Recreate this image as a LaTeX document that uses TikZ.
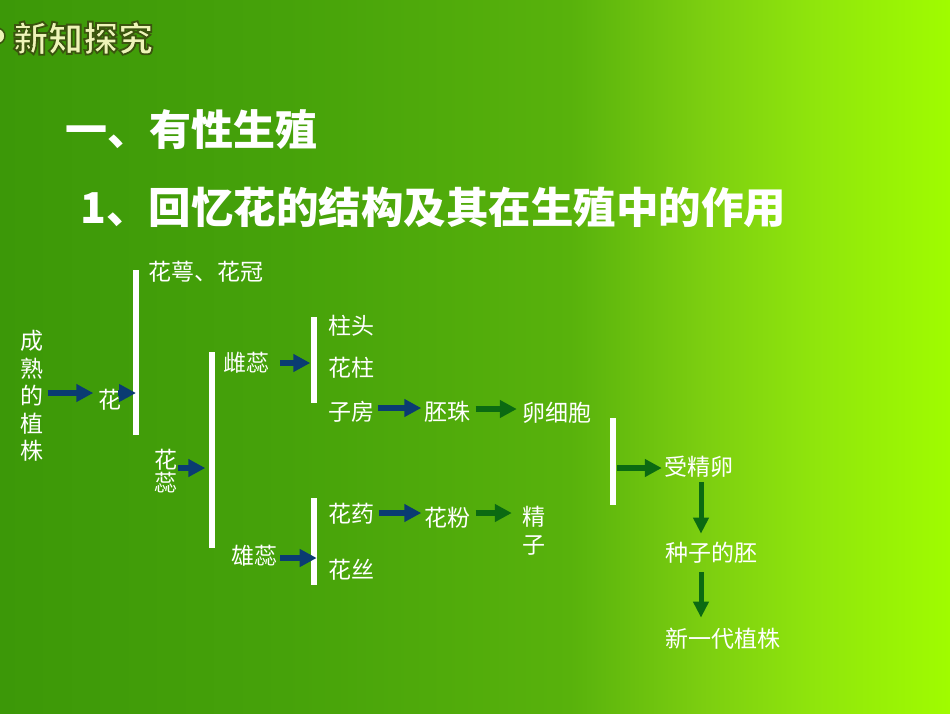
\documentclass[tikz,border=0pt]{standalone}
\usepackage{fontspec}
\newfontfamily\cjk{Noto Sans CJK SC}
\usetikzlibrary{arrows.meta}
\definecolor{navy}{HTML}{0A3C72}
\definecolor{dgreen}{HTML}{0B6A12}
\definecolor{pale}{HTML}{EEF4B8}
\definecolor{olive}{HTML}{3A5410}
\definecolor{ga}{HTML}{3C9808}
\definecolor{gb}{HTML}{46A20A}
\definecolor{gc}{HTML}{58B20C}
\definecolor{gd}{HTML}{7CCE10}
\definecolor{ge}{HTML}{90E60C}
\definecolor{gf}{HTML}{A0FC00}
\pgfdeclarehorizontalshading{bgshade}{100bp}{color(0bp)=(ga); color(25bp)=(ga); color(40bp)=(gb); color(55bp)=(gc); color(62bp)=(gd); color(68bp)=(ge); color(75bp)=(gf); color(100bp)=(gf)}
\tikzset{
  lbl/.style={text=white, font=\cjk\fontsize{23}{28}\selectfont, inner sep=0pt},
  barnode/.style={draw=none, fill=white, minimum width=6pt, inner sep=0pt},
  barrow/.style={navy, line width=6.5pt, -{Triangle[length=17pt,width=17pt]}},
  garrow/.style={dgreen, line width=6.5pt, -{Triangle[length=17pt,width=17pt]}},
  gdown/.style={dgreen, line width=5pt, -{Triangle[length=16pt,width=15pt]}},
  ttl/.style={text=white, inner sep=0pt, anchor=west}
}
\begin{document}
\begin{tikzpicture}[x=1pt,y=-1pt]
\useasboundingbox (0,0) rectangle (950,713);
\shade[shading=bgshade] (0,0) rectangle (950,713);
% header badge
\draw[olive, fill=pale, line width=1.5pt] (-3,36) circle (8);
\node[inner sep=0pt, anchor=west, text=pale, font=\cjk\bfseries\fontsize{35}{35}\selectfont] (badge) at (13,38) {\special{pdf:literal direct 2 Tr 1.8 w 0.23 0.33 0.06 RG}新知探究\special{pdf:literal direct 0 Tr 1 w}};
% titles
\node[ttl, font=\cjk\bfseries\fontsize{42}{42}\selectfont] (t1) at (65,130) {一、有性生殖};
\node[ttl, font=\cjk\bfseries\fontsize{42.5}{42.5}\selectfont] (t2) at (80,207) {1、回忆花的结构及其在生殖中的作用};
% text nodes
\node[lbl, align=center, font=\cjk\fontsize{23}{27.5}\selectfont] (cs) at (32,396) {成\\熟\\的\\植\\株};
\node[lbl] (hua) at (110,400) {花};
\node[lbl, anchor=west] (hge) at (148,272) {花萼、花冠};
\node[lbl, align=center, font=\cjk\fontsize{23}{23}\selectfont] (hr) at (166,471.5) {花\\蕊};
\node[lbl] (cr) at (246,363) {雌蕊};
\node[lbl] (xr) at (254,556) {雄蕊};
\node[lbl, anchor=west] (zt) at (328,326) {柱头};
\node[lbl, anchor=west] (hz) at (328,368) {花柱};
\node[lbl, anchor=west] (zf) at (328,412) {子房};
\node[lbl] (pz) at (447,412) {胚珠};
\node[lbl] (lxb) at (557,413) {卵细胞};
\node[lbl, anchor=west] (hy) at (328,514) {花药};
\node[lbl, anchor=west] (hs) at (328,570) {花丝};
\node[lbl] (hf) at (447,518) {花粉};
\node[lbl, align=center, font=\cjk\fontsize{23}{28}\selectfont] (jz) at (534,531) {精\\子};
\node[lbl] (sjl) at (699,467) {受精卵};
\node[lbl] (zzdp) at (711,553) {种子的胚};
\node[lbl] (xyd) at (723,639) {新一代植株};
% bars
\node[barnode, minimum height=165pt] (b1) at (136,352.5) {};
\node[barnode, minimum height=196pt] (b2) at (211.5,450) {};
\node[barnode, minimum height=86pt] (b3) at (313.5,360) {};
\node[barnode, minimum height=87pt] (b5) at (313.5,541.5) {};
\node[barnode, minimum height=87pt] (b4) at (613,461.5) {};
% arrows
\draw[barrow, shorten <=4pt, shorten >=5pt] ([yshift=3pt]cs.east) -- ([yshift=3pt]cs.east -| hua.west);
\draw[barrow] ([xshift=-4pt,yshift=7pt]hua.east) -- ([yshift=7pt]hua.east -| b1.center);
\draw[barrow, shorten >=3pt] ([yshift=3.5pt]hr.east) -- ([yshift=3.5pt]hr.east -| b2.west);
\draw[barrow, shorten <=11pt] (cr.east) -- (cr.east -| b3.west);
\draw[barrow, shorten <=3pt] ([yshift=-2pt]xr.east) -- ([yshift=-2pt]xr.east -| b5.east);
\draw[barrow, shorten <=4pt, shorten >=2.5pt] ([yshift=4pt]zf.east) -- ([yshift=4pt]zf.east -| pz.west);
\draw[garrow, shorten <=5.5pt, shorten >=5.5pt] ([yshift=3pt]pz.east) -- ([yshift=3pt]pz.east -| lxb.west);
\draw[barrow, shorten <=5pt, shorten >=2.5pt] ([yshift=1pt]hy.east) -- ([yshift=1pt]hy.east -| hf.west);
\draw[garrow, shorten <=5.5pt, shorten >=10.5pt] ([yshift=5pt]hf.east) -- ([yshift=5pt]hf.east -| jz.west);
\draw[garrow, shorten <=1pt, shorten >=2.5pt] ([yshift=-1pt]sjl.west -| b4.east) -- ([yshift=-1pt]sjl.west);
\draw[gdown, shorten <=4.5pt, shorten >=8.5pt] ([xshift=2pt]sjl.south) -- ([xshift=2pt]sjl.south |- zzdp.north);
\draw[gdown, shorten <=8.5pt, shorten >=10.5pt] ([xshift=2pt]sjl.south |- zzdp.south) -- ([xshift=2pt]sjl.south |- xyd.north);
\end{tikzpicture}
\end{document}
